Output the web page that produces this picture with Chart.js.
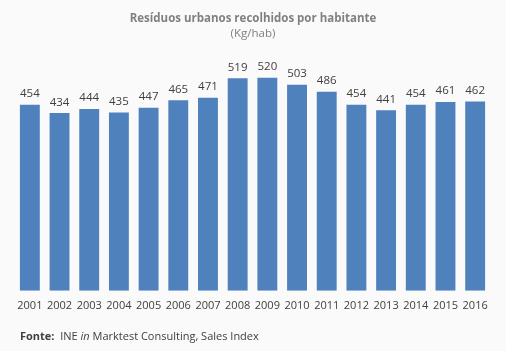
<!DOCTYPE html>
<html>
<head>
<meta charset="utf-8">
<script src="https://cdn.jsdelivr.net/npm/chart.js@4"></script>
<style>
  html, body { margin: 0; padding: 0; background: #fafafa; }
  #wrap { position: relative; width: 506px; height: 351px; }
  #title { position: absolute; top: 10px; left: 0; width: 506px; text-align: center;
           font-family: "Open Sans", sans-serif; color: #808080; font-size: 11.5px; line-height: 15px; }
  #title b { font-weight: 700; }
  #fonte { position: absolute; left: 20px; top: 328px; font-family: "Open Sans", sans-serif;
           font-size: 11px; color: #404040; }
</style>
</head>
<body>
<div id="wrap">
  <canvas id="chart" width="506" height="351"></canvas>
  <div id="title"><b>Resíduos urbanos recolhidos por habitante</b><br>(Kg/hab)</div>
  <div id="fonte"><b>Fonte:</b>&nbsp; INE <i>in</i> Marktest Consulting, Sales Index</div>
</div>
<script>
const anos = ["2001", "2002", "2003", "2004", "2005", "2006", "2007", "2008",
              "2009", "2010", "2011", "2012", "2013", "2014", "2015", "2016"];
const residuos = [454, 434, 444, 435, 447, 465, 471, 519, 520, 503, 486, 454, 441, 454, 461, 462];

// values over each bar
const labelsPlugin = {
    id: "valueLabels",
    afterDatasetsDraw(chart) {
        const ctx = chart.ctx;
        const meta = chart.getDatasetMeta(0);
        ctx.save();
        ctx.font = "11.5px 'Open Sans', sans-serif";
        ctx.fillStyle = "#404040";
        ctx.textAlign = "center";
        ctx.textBaseline = "bottom";
        meta.data.forEach((bar, i) => {
            ctx.fillText(residuos[i], bar.x, bar.y - 5);
        });
        ctx.restore();
    }
};

const ctx = document.getElementById("chart").getContext("2d");
new Chart(ctx, {
    type: "bar",
    data: {
        labels: anos,
        datasets: [{
            data: residuos,
            backgroundColor: "#4f81bd",
            categoryPercentage: 1,
            barPercentage: 0.67,
        }],
    },
    options: {
        responsive: false,
        animation: false,
        layout: { padding: { left: 15, right: 16, top: 45, bottom: 39 } },
        plugins: {
            legend: { display: false },
            tooltip: { enabled: false },
        },
        scales: {
            x: {
                grid: { display: false },
                border: { display: false },
                ticks: {
                    color: "#404040",
                    font: { family: "'Open Sans', sans-serif", size: 11 },
                    padding: 0,
                    maxRotation: 0,
                    minRotation: 0,
                    autoSkip: false,
                },
            },
            y: {
                display: false,
                min: 0,
                max: 600,
            },
        },
    },
    plugins: [labelsPlugin],
});
</script>
</body>
</html>
